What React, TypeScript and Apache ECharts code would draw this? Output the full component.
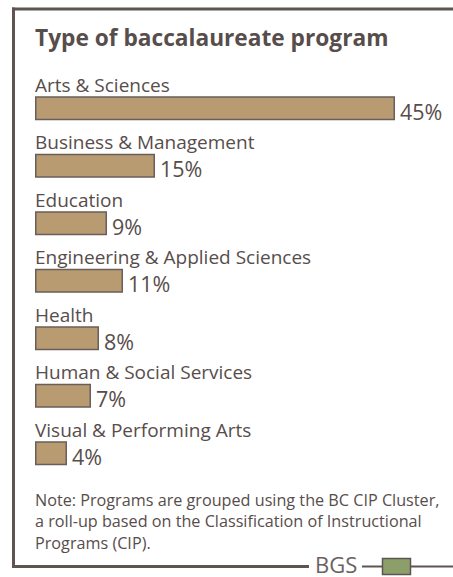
import React, { useEffect, useRef } from "react";
import * as echarts from "echarts";

const categories = [
  "Arts & Sciences",
  "Business & Management",
  "Education",
  "Engineering & Applied Sciences",
  "Health",
  "Human & Social Services",
  "Visual & Performing Arts",
];
const values = [45, 15, 9, 11, 8, 7, 4];
const titleText = "Type of baccalaureate program";
const noteLines = [
  "Note: Programs are grouped using the BC CIP Cluster,",
  "a roll-up based on the Classification of Instructional",
  "Programs (CIP).",
];
const brandText = "BGS";

const FONT = "'Open Sans', 'Noto Sans', sans-serif";
const TEXT = "#574d4b";
const FRAME = "#5e5553";

export default function App() {
  const ref = useRef<HTMLDivElement>(null);
  useEffect(() => {
    if (!ref.current) return;
    const chart = echarts.init(ref.current, undefined, { renderer: "svg" });
    chart.setOption({
      animation: false,
      backgroundColor: "#ffffff",
      grid: { left: 35, top: 79.5, width: 400, height: 402.5, containLabel: false },
      xAxis: { type: "value", min: 0, max: 50, show: false },
      yAxis: { type: "category", data: categories, inverse: true, show: false },
      series: [
        {
          type: "bar",
          data: values,
          barWidth: 24,
          itemStyle: { color: "#b99b71", borderColor: "#6a5e5b", borderWidth: 1.5 },
          label: {
            show: true,
            position: "right",
            distance: 5,
            offset: [0, 3],
            formatter: "{c}%",
            fontFamily: FONT,
            fontSize: 21.5,
            color: TEXT,
          },
          silent: true,
        },
        {
          type: "bar",
          data: values,
          barWidth: 24,
          barGap: "-100%",
          itemStyle: { color: "rgba(0,0,0,0)" },
          label: {
            show: true,
            position: [0, -2],
            align: "left",
            verticalAlign: "bottom",
            formatter: "{b}",
            fontFamily: FONT,
            fontSize: 19,
            color: TEXT,
          },
          silent: true,
        },
      ],
      graphic: [
        { type: "line", shape: { x1: 13.5, y1: 7.5, x2: 13.5, y2: 568 }, style: { stroke: FRAME, lineWidth: 3 } },
        { type: "line", shape: { x1: 12, y1: 9, x2: 453, y2: 9 }, style: { stroke: FRAME, lineWidth: 3 } },
        { type: "line", shape: { x1: 12, y1: 566.5, x2: 309, y2: 566.5 }, style: { stroke: FRAME, lineWidth: 3 } },
        { type: "line", shape: { x1: 362, y1: 566.5, x2: 383, y2: 566.5 }, style: { stroke: FRAME, lineWidth: 2 } },
        { type: "line", shape: { x1: 410, y1: 566.5, x2: 453, y2: 566.5 }, style: { stroke: FRAME, lineWidth: 2 } },
        {
          type: "rect",
          shape: { x: 382.5, y: 558.5, width: 28, height: 16 },
          style: { fill: "#8c9f6b", stroke: FRAME, lineWidth: 1.5 },
        },
        {
          type: "text",
          x: 315,
          y: 563.5,
          style: {
            text: brandText,
            fontFamily: FONT,
            fontSize: 22,
            fill: "#6a6260",
            align: "left",
            verticalAlign: "middle",
          },
        },
        {
          type: "text",
          x: 35,
          y: 37.5,
          style: {
            text: titleText,
            fontFamily: FONT,
            fontWeight: "bold",
            fontSize: 22.7,
            fill: TEXT,
            align: "left",
            verticalAlign: "middle",
          },
        },
        ...noteLines.map((t, i) => ({
          type: "text",
          x: 35,
          y: 499.5 + i * 21.6,
          style: {
            text: t,
            fontFamily: FONT,
            fontSize: 16.2,
            fill: TEXT,
            align: "left",
            verticalAlign: "middle",
          },
        })),
      ],
    });
    return () => chart.dispose();
  }, []);
  return (
    <div
      ref={ref}
      style={{ position: "absolute", left: 0, top: 0, width: 453, height: 577 }}
    />
  );
}
